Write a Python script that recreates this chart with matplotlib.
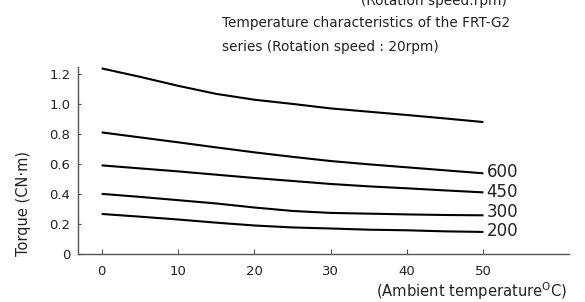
import matplotlib
matplotlib.use("Agg")
import matplotlib.pyplot as plt

plt.rcParams["font.family"] = ["DejaVu Sans"]

temps = [0, 5, 10, 15, 20, 25, 30, 35, 40, 45, 50]
torque_max = [1.238, 1.182, 1.122, 1.068, 1.029, 1.001, 0.971, 0.949, 0.927, 0.904, 0.880]
torque_600 = [0.811, 0.778, 0.745, 0.711, 0.678, 0.648, 0.620, 0.598, 0.578, 0.558, 0.538]
torque_450 = [0.591, 0.571, 0.551, 0.529, 0.507, 0.487, 0.467, 0.451, 0.438, 0.424, 0.411]
torque_300 = [0.401, 0.381, 0.359, 0.337, 0.310, 0.287, 0.274, 0.269, 0.264, 0.260, 0.258]
torque_200 = [0.267, 0.249, 0.230, 0.209, 0.190, 0.177, 0.170, 0.162, 0.158, 0.151, 0.147]
labels = ["", "600", "450", "300", "200"]
label_y = [None, 0.545, 0.413, 0.28, 0.153]

xticks = [0, 10, 20, 30, 40, 50]
yticks = [0, 0.2, 0.4, 0.6, 0.8, 1.0, 1.2]
ytick_labels = ["0", "0.2", "0.4", "0.6", "0.8", "1.0", "1.2"]

txt = "#222222"
fig = plt.figure(figsize=(5.85, 3.02), dpi=100)
ax = fig.add_axes([0.1333, 0.159, 0.8393, 0.619])

series = [torque_max, torque_600, torque_450, torque_300, torque_200]
for vals, lab, ly in zip(series, labels, label_y):
    ax.plot(temps, vals, color="black", lw=1.5, solid_capstyle="butt")
    if lab:
        ax.text(50.4, ly, lab, fontsize=12, color=txt, va="center", ha="left")

ax.set_xlim(-3.1, 61.2)
ax.set_ylim(0, 1.247)
for s in ["top", "right"]:
    ax.spines[s].set_visible(False)
for s in ["left", "bottom"]:
    ax.spines[s].set_color("#555555")
    ax.spines[s].set_linewidth(1.0)

ax.set_xticks(xticks)
ax.set_xticklabels([str(t) for t in xticks])
ax.set_yticks(yticks)
ax.set_yticklabels(ytick_labels)
ax.tick_params(axis="x", direction="in", length=3.5, width=0.8, color="#555555",
               labelsize=9.5, labelcolor=txt, pad=8)
ax.tick_params(axis="y", direction="in", length=2, width=0.8, color="#555555",
               labelsize=9.5, labelcolor=txt, pad=5.5)

fig.text(24 / 585, 1 - 203 / 302, "Torque (CN·m)", rotation=90, fontsize=10.5,
         color=txt, ha="center", va="center")
fig.text(567 / 585, 1 - 297.5 / 302, r"(Ambient temperature$^{\mathrm{O}}$C)",
         fontsize=10.6, color=txt, ha="right", va="baseline")

fig.text(507 / 585, 1 - 5 / 302, "(Rotation speed:rpm)", fontsize=9.8,
         color=txt, ha="right", va="baseline")
fig.text(222 / 585, 1 - 26.5 / 302, "Temperature characteristics of the FRT-G2",
         fontsize=9.8, color=txt, ha="left", va="baseline")
fig.text(222 / 585, 1 - 50.5 / 302, "series (Rotation speed : 20rpm)",
         fontsize=9.8, color=txt, ha="left", va="baseline")

fig.savefig("out.png", dpi=100)
